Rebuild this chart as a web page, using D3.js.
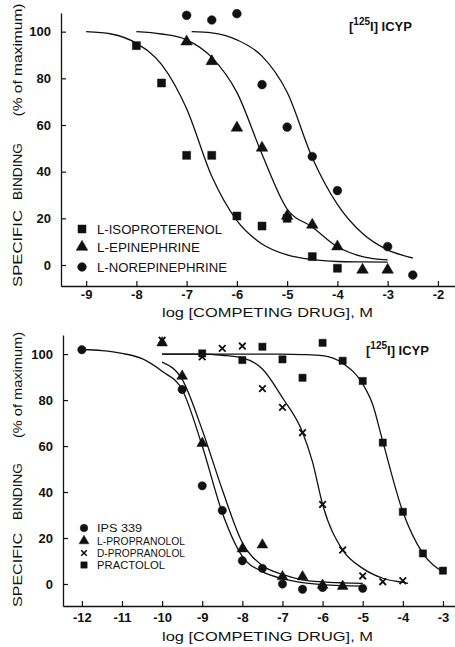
<!DOCTYPE html>
<html>
<head>
<meta charset="utf-8">
<script src="https://cdn.jsdelivr.net/npm/d3@7"></script>
<style>
  html, body { margin: 0; padding: 0; background: #fff; }
  svg { display: block; }
  text { font-family: "Liberation Sans", Arial, sans-serif; fill: #111; }
</style>
</head>
<body>
<svg id="chart" width="455" height="647"></svg>
<script>
// ---------------- DATA ----------------
// Top panel: log [drug] (M) vs specific binding (% of maximum)
const topXTicks = [-9, -8, -7, -6, -5, -4, -3, -2];
const yTicks = [0, 20, 40, 60, 80, 100];

const isoX = [-8, -7.5, -7, -6.5, -6, -5.5, -5, -4.5, -4];
const isoY = [94, 78, 47, 47, 21, 16.7, 20, 3.6, -1.4];
const epiX = [-7, -6.5, -6, -5.5, -5, -4.5, -4, -3.5, -3];
const epiY = [95.7, 87.3, 58.8, 50.2, 21, 17.2, 7.9, -2.1, -2.1];
const norX = [-7, -6.5, -6, -5.5, -5, -4.5, -4, -3, -2.5];
const norY = [107, 105, 107.7, 77.3, 59.1, 46.5, 31.9, 7.9, -4.3];

const isoCurveX = [-9, -8.5, -8, -7.5, -7, -6.5, -6, -5.5, -5, -4.5, -4, -3.5, -3];
const isoCurveY = [100, 99, 95, 86, 67, 38, 19, 9, 4.3, 2.3, 1.5, 1.3, 1.2];
const epiCurveX = [-8, -7.5, -7, -6.5, -6, -5.5, -5, -4.5, -4, -3.5, -3];
const epiCurveY = [100, 99, 96.5, 89, 74, 47.5, 24, 16.3, 7.8, 3.6, 2.2];
const norCurveX = [-6.9, -6.5, -6, -5.5, -5, -4.5, -4, -3.5, -3, -2.5];
const norCurveY = [100, 99.5, 96.5, 89.5, 74, 46, 26, 13.5, 6.5, 3];

const topLegend = ["L-ISOPROTERENOL", "L-EPINEPHRINE", "L-NOREPINEPHRINE"];

// Bottom panel
const botXTicks = [-12, -11, -10, -9, -8, -7, -6, -5, -4, -3];
const botXLabels = ["-12", "-11", "-10", "-9", "-8", "-7", "-6", "-5", "-4", "-3"];

const ipsX = [-12, -9.5, -9, -8.5, -8, -7.5, -7, -6.5, -6, -5];
const ipsY = [101.9, 84.6, 42.7, 32, 10.1, 6.8, 0, -2.3, -1.5, -1.9];
const lprX = [-10, -9.5, -9, -8, -7.5, -7, -6.5, -6, -5.5];
const lprY = [104.9, 90.4, 61.2, 15.3, 17, 3.2, 3.2, -0.5, -1];
const dprX = [-10, -9, -8.5, -8, -7.5, -7, -6.5, -6, -5.5, -5, -4.5, -4];
const dprY = [106, 98.8, 102.5, 103.5, 85, 76.8, 65.8, 34.6, 14.8, 3.5, 1.0, 1.4];
const praX = [-9, -8, -7.5, -7, -6.5, -6, -5.5, -5, -4.5, -4, -3.5, -3];
const praY = [100.3, 97.4, 103.2, 97.7, 89.7, 104.9, 97.1, 88.3, 61.5, 31.4, 13.3, 5.8];

const ipsCurveX = [-12, -11.5, -11, -10.5, -10, -9.5, -9, -8.5, -8, -7.5, -7, -6.5, -6, -5.5, -5];
const ipsCurveY = [102, 101.5, 100.3, 98, 92.5, 84.5, 60, 31, 12, 5.4, 2.3, 0.6, -0.3, -0.7, -0.9];
const lprCurveX = [-10, -9.5, -9, -8.5, -8, -7.5, -7, -6.5, -6, -5.5, -5];
const lprCurveY = [96.5, 89, 67, 41, 18, 8, 4.2, 1.8, 0.9, 0.5, 0.3];
const dprCurveX = [-10, -9, -8.5, -8, -7.5, -7, -6.5, -6.25, -6, -5.5, -5, -4.5, -4, -3.87];
const dprCurveY = [100, 100, 99.5, 98.4, 93.5, 81, 66, 53, 34.6, 14.8, 6.8, 2.5, 0.7, 0.3];
const praCurveX = [-10, -7, -6.5, -6, -5.5, -5, -4.75, -4.5, -4, -3.5, -3];
const praCurveY = [100, 100, 99.8, 99.3, 96, 87, 78, 62, 31.4, 13.3, 5.3];

const botLegend = ["IPS 339", "L-PROPRANOLOL", "D-PROPRANOLOL", "PRACTOLOL"];

// ---------------- DRAW ----------------
const svg = d3.select("#chart");
const FONT = '"Liberation Sans", Arial, sans-serif';

function zip(xs, ys) { return xs.map((x, i) => ({ x, y: ys[i] })); }

function drawPanel(cfg) {
  const x = d3.scaleLinear().domain(cfg.xDomain).range(cfg.xRange);
  const y = d3.scaleLinear().domain(cfg.yDomain).range(cfg.yRange);
  const g = svg.append("g");

  // y axis
  const ya = g.append("g").attr("transform", `translate(${cfg.xRange[0]},0)`)
    .call(d3.axisLeft(y).tickValues(yTicks).tickSize(-5).tickSizeOuter(0).tickPadding(10));
  ya.select(".domain").attr("stroke", "#111").attr("stroke-width", 1.3);
  ya.selectAll(".tick line").attr("stroke", "#111").attr("stroke-width", 1.2);
  ya.selectAll(".tick text").attr("font-family", FONT).attr("font-size", 13)
    .attr("font-weight", "bold").attr("fill", "#111");

  // x axis
  const xa = g.append("g").attr("transform", `translate(0,${cfg.yRange[0]})`)
    .call(d3.axisBottom(x).tickValues(cfg.xTicks).tickFormat((d, i) => cfg.xLabels[i])
      .tickSize(-5).tickSizeOuter(0).tickPadding(cfg.xPad));
  xa.select(".domain").attr("stroke", "#111").attr("stroke-width", 1.3);
  xa.selectAll(".tick line").attr("stroke", "#111").attr("stroke-width", 1.2);
  xa.selectAll(".tick text").attr("font-family", FONT).attr("font-size", 13)
    .attr("font-weight", "bold").attr("fill", "#111");

  // curves
  const line = d3.line().x(d => x(d.x)).y(d => y(d.y)).curve(d3.curveMonotoneX);
  cfg.curves.forEach(c => {
    g.append("path").attr("d", line(zip(c[0], c[1])))
      .attr("fill", "none").attr("stroke", "#111").attr("stroke-width", 1.3);
  });

  // points
  cfg.series.forEach(s => {
    const sym = d3.symbol().type(s.type).size(s.size);
    g.selectAll(null).data(zip(s.x, s.y)).enter().append("path")
      .attr("d", sym)
      .attr("transform", d => `translate(${x(d.x)},${y(d.y)})`)
      .attr("fill", s.stroke ? "none" : "#111")
      .attr("stroke", "#111")
      .attr("stroke-width", s.stroke ? 1.8 : 0.5);
  });

  // legend
  cfg.legend.forEach((name, i) => {
    const s = cfg.series[i];
    const ly = cfg.legY[i];
    const sym = d3.symbol().type(s.type).size(s.legSize);
    g.append("path").attr("d", sym)
      .attr("transform", `translate(${cfg.legX},${ly})`)
      .attr("fill", s.stroke ? "none" : "#111").attr("stroke", "#111")
      .attr("stroke-width", s.stroke ? 1.6 : 0.5);
    g.append("text").attr("x", cfg.legTextX).attr("y", ly + cfg.legFont * 0.36)
      .attr("font-size", cfg.legFont).attr("textLength", cfg.legLen[i])
      .attr("lengthAdjust", "spacingAndGlyphs").text(name);
  });

  // [125I] ICYP label
  const t = g.append("text").attr("x", cfg.tagX).attr("y", cfg.tagY)
    .attr("font-size", 13).attr("font-weight", "bold");
  t.append("tspan").text("[");
  t.append("tspan").attr("dy", -6).attr("font-size", 10).text("125");
  t.append("tspan").attr("dy", 6).text("I] ICYP");

  // x title
  g.append("text").attr("x", 162).attr("y", cfg.xTitleY).attr("font-size", 12.5)
    .attr("textLength", 211).attr("lengthAdjust", "spacingAndGlyphs")
    .text("log [COMPETING DRUG], M");

  // y title parts
  cfg.yTitle.forEach(p => {
    g.append("text").attr("transform", `translate(22,${p.c}) rotate(-90)`)
      .attr("text-anchor", "middle").attr("font-size", p.fs)
      .attr("textLength", p.len).attr("lengthAdjust", "spacingAndGlyphs")
      .text(p.t);
  });
}

drawPanel({
  xDomain: [-9.5, -1.66], xRange: [61, 455],
  yDomain: [-9, 108], yRange: [286, 13],
  xTicks: topXTicks, xLabels: topXTicks.map(String), xPad: 4,
  curves: [[isoCurveX, isoCurveY], [epiCurveX, epiCurveY], [norCurveX, norCurveY]],
  series: [
    { x: isoX, y: isoY, type: d3.symbolSquare, size: 64, legSize: 64 },
    { x: epiX, y: epiY, type: d3.symbolTriangle, size: 58, legSize: 58 },
    { x: norX, y: norY, type: d3.symbolCircle, size: 60, legSize: 60 }
  ],
  legend: topLegend, legX: 82, legY: [229, 247, 267], legTextX: 97,
  legFont: 12.5, legLen: [125, 103, 130],
  tagX: 349, tagY: 31, xTitleY: 317,
  yTitle: [
    { t: "SPECIFIC", c: 248.5, len: 77, fs: 13 },
    { t: "BINDING", c: 171.5, len: 57, fs: 13 },
    { t: "(% of maximum)", c: 60, len: 113, fs: 13 }
  ]
});

drawPanel({
  xDomain: [-12.47, -2.7], xRange: [63, 455],
  yDomain: [-9.57, 108.3], yRange: [606, 335],
  xTicks: botXTicks, xLabels: botXLabels, xPad: 7,
  curves: [[ipsCurveX, ipsCurveY], [lprCurveX, lprCurveY], [dprCurveX, dprCurveY], [praCurveX, praCurveY]],
  series: [
    { x: ipsX, y: ipsY, type: d3.symbolCircle, size: 55, legSize: 45 },
    { x: lprX, y: lprY, type: d3.symbolTriangle, size: 50, legSize: 42 },
    { x: dprX, y: dprY, type: d3.symbolX, size: 30, legSize: 22, stroke: true },
    { x: praX, y: praY, type: d3.symbolSquare, size: 52, legSize: 40 }
  ],
  legend: botLegend, legX: 84, legY: [528, 541, 553, 565], legTextX: 97,
  legFont: 11, legLen: [45, 88, 88, 68],
  tagX: 366, tagY: 355, xTitleY: 641,
  yTitle: [
    { t: "SPECIFIC", c: 570, len: 74, fs: 13 },
    { t: "BINDING", c: 491.5, len: 57, fs: 13 },
    { t: "(% of maximum)", c: 385, len: 106, fs: 13 }
  ]
});
</script>
</body>
</html>
